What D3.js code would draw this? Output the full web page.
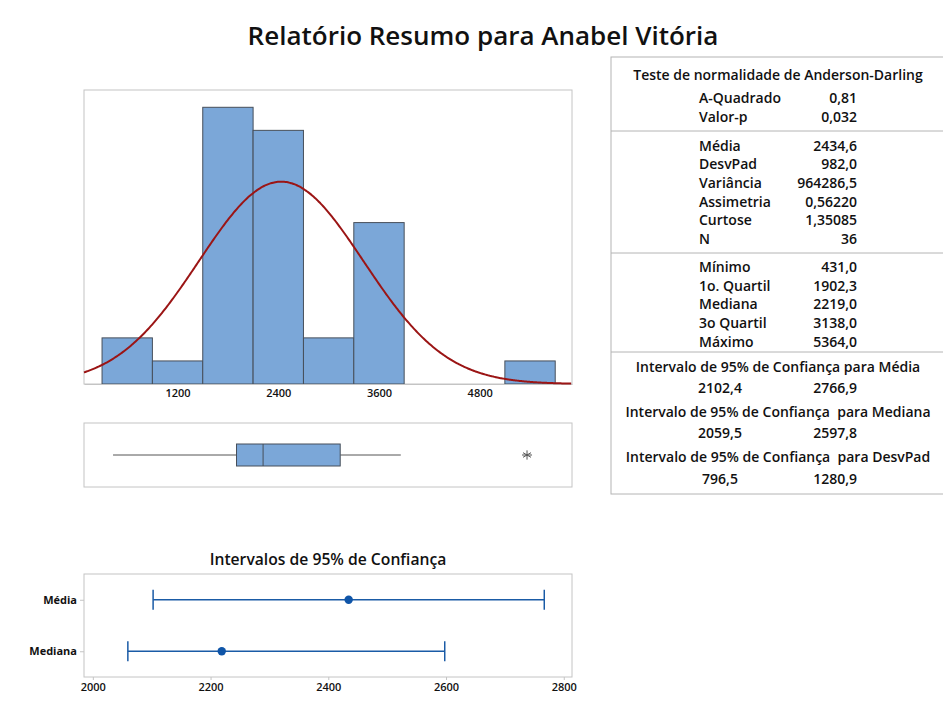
<!DOCTYPE html>
<html>
<head>
<meta charset="utf-8">
<script src="https://cdn.jsdelivr.net/npm/d3@7"></script>
<style>
  body { margin: 0; background: #fff; }
  svg text { font-family: "Open Sans", sans-serif; font-weight: 600; fill: #111; white-space: pre; }
</style>
</head>
<body>
<svg id="chart" width="943" height="712"></svg>
<script>
// histogram: lower bin edges and counts (bin width 600)
const binStarts = [300, 900, 1500, 2100, 2700, 3300, 3900, 4500, 5100];
const binCounts = [2, 1, 12, 11, 2, 7, 0, 0, 1];
const binWidth = 600;
const histTicks = [1200, 2400, 3600, 4800];

const nObs = 36;
const mean = 2434.6;
const stdev = 982.0;

// boxplot: whisker low, Q1, median, Q3, whisker high
const boxStats = [431.0, 1902.3, 2219.0, 3138.0, 3860];
const outliers = [5364.0];

// confidence interval plot
const ciLabels = ["Média", "Mediana"];
const ciCentre = [2434.6, 2219.0];
const ciLow = [2102.4, 2059.5];
const ciHigh = [2766.9, 2597.8];
const ciTicks = [2000, 2200, 2400, 2600, 2800];

// summary table
const adLabels = ["A-Quadrado", "Valor-p"];
const adValues = ["0,81", "0,032"];
const descLabels = ["Média", "DesvPad", "Variância", "Assimetria", "Curtose", "N"];
const descValues = ["2434,6", "982,0", "964286,5", "0,56220", "1,35085", "36"];
const quantLabels = ["Mínimo", "1o. Quartil", "Mediana", "3o Quartil", "Máximo"];
const quantValues = ["431,0", "1902,3", "2219,0", "3138,0", "5364,0"];
const ivTitles = ["Intervalo de 95% de Confiança para Média",
                  "Intervalo de 95% de Confiança  para Mediana",
                  "Intervalo de 95% de Confiança  para DesvPad"];
const ivLow = ["2102,4", "2059,5", "796,5"];
const ivHigh = ["2766,9", "2597,8", "1280,9"];

const svg = d3.select("#chart");
const barFill = "#7ba7d8", barStroke = "#474f5a", frameCol = "#c4c4c4";

svg.append("text")
  .attr("x", 483).attr("y", 36).attr("dy", "0.35em")
  .attr("text-anchor", "middle")
  .style("font-size", "26px")
  .text("Relatório Resumo para Anabel Vitória");

// ---- histogram ----
const hist = {left: 84, right: 572, top: 90, bottom: 384};
const x = d3.scaleLinear().domain([85, 5900]).range([hist.left, hist.right]);
const y = d3.scaleLinear().domain([0, 12.75]).range([hist.bottom, hist.top]);

svg.append("rect")
  .attr("x", hist.left).attr("y", hist.top)
  .attr("width", hist.right - hist.left).attr("height", hist.bottom - hist.top)
  .attr("fill", "none").attr("stroke", frameCol);

svg.append("g").selectAll("rect")
  .data(binStarts.map((s, i) => ({s, c: binCounts[i]})).filter(d => d.c > 0))
  .join("rect")
  .attr("x", d => x(d.s))
  .attr("y", d => y(d.c))
  .attr("width", d => x(d.s + binWidth) - x(d.s))
  .attr("height", d => y(0) - y(d.c))
  .attr("fill", barFill)
  .attr("stroke", barStroke)
  .attr("stroke-width", 1);

const xAxis = svg.append("g")
  .attr("transform", `translate(0,${hist.bottom})`)
  .call(d3.axisBottom(x).tickValues(histTicks).tickFormat(d3.format("d")).tickSize(0).tickPadding(5));
xAxis.select(".domain").attr("stroke", frameCol);
xAxis.selectAll("text").style("font-size", "11px").attr("font-family", null);

// fitted normal curve scaled to counts
const dens = v => nObs * binWidth * Math.exp(-0.5 * ((v - mean) / stdev) ** 2) / (stdev * Math.sqrt(2 * Math.PI));
svg.append("path")
  .datum(d3.range(85, 5901, 15))
  .attr("fill", "none")
  .attr("stroke", "#9b1515")
  .attr("stroke-width", 2)
  .attr("d", d3.line().x(d => x(d)).y(d => y(dens(d))).curve(d3.curveBasis));

// ---- boxplot ----
const box = {top: 423, bottom: 487};
const boxMid = 455, boxH = 22;
svg.append("rect")
  .attr("x", hist.left).attr("y", box.top)
  .attr("width", hist.right - hist.left).attr("height", box.bottom - box.top)
  .attr("fill", "none").attr("stroke", frameCol);

const bp = svg.append("g");
bp.append("line")
  .attr("x1", x(boxStats[0])).attr("x2", x(boxStats[1]))
  .attr("y1", boxMid).attr("y2", boxMid).attr("stroke", "#555");
bp.append("line")
  .attr("x1", x(boxStats[3])).attr("x2", x(boxStats[4]))
  .attr("y1", boxMid).attr("y2", boxMid).attr("stroke", "#555");
bp.append("rect")
  .attr("x", x(boxStats[1])).attr("y", boxMid - boxH / 2)
  .attr("width", x(boxStats[3]) - x(boxStats[1])).attr("height", boxH)
  .attr("fill", barFill).attr("stroke", barStroke);
bp.append("line")
  .attr("x1", x(boxStats[2])).attr("x2", x(boxStats[2]))
  .attr("y1", boxMid - boxH / 2).attr("y2", boxMid + boxH / 2)
  .attr("stroke", barStroke);
bp.selectAll("path.out")
  .data(outliers)
  .join("path")
  .attr("class", "out")
  .attr("transform", d => `translate(${x(d)},${boxMid})`)
  .attr("d", d3.symbol(d3.symbolAsterisk, 60))
  .attr("fill", "none").attr("stroke", "#555");
bp.selectAll("line.out")
  .data(outliers)
  .join("line")
  .attr("class", "out")
  .attr("x1", d => x(d) - 5).attr("x2", d => x(d) + 5)
  .attr("y1", boxMid).attr("y2", boxMid)
  .attr("stroke", "#555");

// ---- confidence interval plot ----
const ci = {left: 84, right: 572, top: 574, bottom: 677};
const cx = d3.scaleLinear().domain([1985, 2814]).range([ci.left, ci.right]);
const cy = d3.scalePoint().domain(ciLabels).range([ci.top, ci.bottom]).padding(0.5);
const ciBlue = "#1a5ba6";

svg.append("text")
  .attr("x", 328).attr("y", 560).attr("dy", "0.35em")
  .attr("text-anchor", "middle")
  .style("font-size", "15.7px")
  .text("Intervalos de 95% de Confiança");

svg.append("rect")
  .attr("x", ci.left).attr("y", ci.top)
  .attr("width", ci.right - ci.left).attr("height", ci.bottom - ci.top)
  .attr("fill", "none").attr("stroke", frameCol);

const cxAxis = svg.append("g")
  .attr("transform", `translate(0,${ci.bottom})`)
  .call(d3.axisBottom(cx).tickValues(ciTicks).tickFormat(d3.format("d")).tickSize(3).tickPadding(3));
cxAxis.select(".domain").remove();
cxAxis.selectAll("line").attr("stroke", frameCol);
cxAxis.selectAll("text").style("font-size", "11px").attr("font-family", null);

const cyAxis = svg.append("g")
  .attr("transform", `translate(${ci.left},0)`)
  .call(d3.axisLeft(cy).tickSize(4).tickPadding(3));
cyAxis.select(".domain").remove();
cyAxis.selectAll("line").attr("stroke", frameCol);
cyAxis.selectAll("text").style("font-size", "11px").style("font-weight", 700).attr("font-family", null);

const rows = svg.append("g").selectAll("g")
  .data(ciLabels.map((k, i) => ({k, lo: ciLow[i], hi: ciHigh[i], c: ciCentre[i]})))
  .join("g");
rows.append("line")
  .attr("x1", d => cx(d.lo)).attr("x2", d => cx(d.hi))
  .attr("y1", d => cy(d.k)).attr("y2", d => cy(d.k))
  .attr("stroke", ciBlue).attr("stroke-width", 1.5);
rows.append("line")
  .attr("x1", d => cx(d.lo)).attr("x2", d => cx(d.lo))
  .attr("y1", d => cy(d.k) - 10).attr("y2", d => cy(d.k) + 10)
  .attr("stroke", ciBlue).attr("stroke-width", 1.5);
rows.append("line")
  .attr("x1", d => cx(d.hi)).attr("x2", d => cx(d.hi))
  .attr("y1", d => cy(d.k) - 10).attr("y2", d => cy(d.k) + 10)
  .attr("stroke", ciBlue).attr("stroke-width", 1.5);
rows.append("circle")
  .attr("cx", d => cx(d.c)).attr("cy", d => cy(d.k))
  .attr("r", 4.2).attr("fill", "#0f55a8");

// ---- summary table ----
const tb = svg.append("g");
tb.append("rect")
  .attr("x", 611).attr("y", 57).attr("width", 360).attr("height", 437)
  .attr("fill", "none").attr("stroke", "#b4b4b4");
[131, 253, 352].forEach(yy => {
  tb.append("line").attr("x1", 611).attr("x2", 943)
    .attr("y1", yy).attr("y2", yy).attr("stroke", "#b4b4b4");
});

const fs = "14px";
const labX = 699, valX = 857, rowStep = 18.7;
function block(labels, values, y0) {
  labels.forEach((l, i) => {
    tb.append("text").attr("x", labX).attr("y", y0 + i * rowStep).attr("dy", "0.35em")
      .style("font-size", fs).text(l);
    tb.append("text").attr("x", valX).attr("y", y0 + i * rowStep).attr("dy", "0.35em")
      .attr("text-anchor", "end").style("font-size", fs).text(values[i]);
  });
}
tb.append("text").attr("x", 778).attr("y", 75).attr("dy", "0.35em")
  .attr("text-anchor", "middle").style("font-size", fs)
  .text("Teste de normalidade de Anderson-Darling");
block(adLabels, adValues, 98.3);
block(descLabels, descValues, 145.7);
block(quantLabels, quantValues, 267);

const ivY = [366.7, 411.7, 457.5];
ivTitles.forEach((t, i) => {
  tb.append("text").attr("x", 778).attr("y", ivY[i]).attr("dy", "0.35em")
    .attr("text-anchor", "middle").style("font-size", fs).text(t);
  tb.append("text").attr("x", 720).attr("y", ivY[i] + 21.5).attr("dy", "0.35em")
    .attr("text-anchor", "middle").style("font-size", fs).text(ivLow[i]);
  tb.append("text").attr("x", valX).attr("y", ivY[i] + 21.5).attr("dy", "0.35em")
    .attr("text-anchor", "end").style("font-size", fs).text(ivHigh[i]);
});
</script>
</body>
</html>
